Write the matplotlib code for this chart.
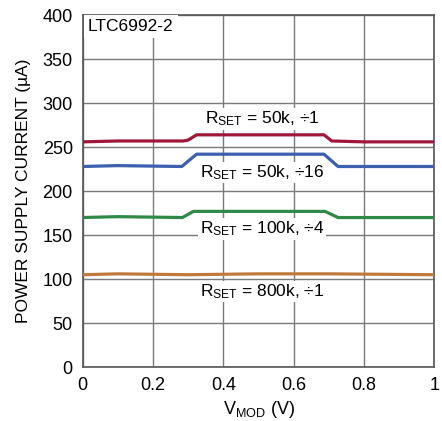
import matplotlib
matplotlib.use("Agg")
import matplotlib.pyplot as plt

plt.rcParams['font.family'] = ['Liberation Sans Narrow', 'Liberation Sans', 'DejaVu Sans']
plt.rcParams['mathtext.default'] = 'regular'

# V_MOD breakpoints and supply current (uA) for each curve
x_50k_1 = [0, 0.1, 0.286, 0.3, 0.324, 0.5, 0.686, 0.708, 0.8, 1.0]
y_50k_1 = [256, 257, 257, 258, 264, 264, 264, 257, 256, 256]

x_50k_16 = [0, 0.1, 0.282, 0.324, 0.5, 0.686, 0.726, 0.8, 1.0]
y_50k_16 = [228, 229, 228, 242, 242, 242, 228, 228, 228]

x_100k_4 = [0, 0.1, 0.284, 0.315, 0.5, 0.689, 0.726, 0.8, 1.0]
y_100k_4 = [170, 171, 170, 177, 177, 177, 170, 170, 170]

x_800k_1 = [0, 0.1, 0.3, 0.5, 0.7, 1.0]
y_800k_1 = [105, 106, 105, 106, 106, 105]

labels = [r'R$_{SET}$ = 50k, ÷1', r'R$_{SET}$ = 50k, ÷16',
          r'R$_{SET}$ = 100k, ÷4', r'R$_{SET}$ = 800k, ÷1']
label_pos = [(0.51, 282), (0.51, 221), (0.51, 157), (0.51, 86)]

fig = plt.figure(figsize=(4.42, 4.21), dpi=100)
ax = fig.add_axes([0.1867, 0.128, 0.7963, 0.836])

ax.plot(x_50k_1, y_50k_1, color='#a0173a', lw=2.3, zorder=3)
ax.plot(x_50k_16, y_50k_16, color='#3c5fb0', lw=2.3, zorder=3)
ax.plot(x_100k_4, y_100k_4, color='#2f8a48', lw=2.3, zorder=3)
ax.plot(x_800k_1, y_800k_1, color='#c27a3c', lw=2.3, zorder=3)

for t, (px, py) in zip(labels, label_pos):
    ax.text(px, py, t, ha='center', va='center', fontsize=12.5, zorder=4,
            bbox=dict(facecolor='white', edgecolor='none', pad=1))

ax.text(0.015, 387, 'LTC6992-2', ha='left', va='center', fontsize=12.5, zorder=4,
        bbox=dict(facecolor='white', edgecolor='none', pad=3))

ax.set_xlim(0, 1)
ax.set_ylim(0, 400)
ax.set_xticks([0, 0.2, 0.4, 0.6, 0.8, 1])
ax.set_xticklabels(['0', '0.2', '0.4', '0.6', '0.8', '1'])
ax.set_yticks(range(0, 401, 50))
ax.grid(True, color='#7a7a7a', lw=1)
ax.set_axisbelow(True)
for s in ax.spines.values():
    s.set_color('#555555')
    s.set_linewidth(1.2)
ax.tick_params(length=0, labelsize=13, pad=7)

ax.set_ylabel('POWER SUPPLY CURRENT (µA)', fontsize=12.5, labelpad=8)
ax.set_xlabel(r'V$_{MOD}$ (V)', fontsize=13, labelpad=4)

fig.savefig('out.png', dpi=100)
